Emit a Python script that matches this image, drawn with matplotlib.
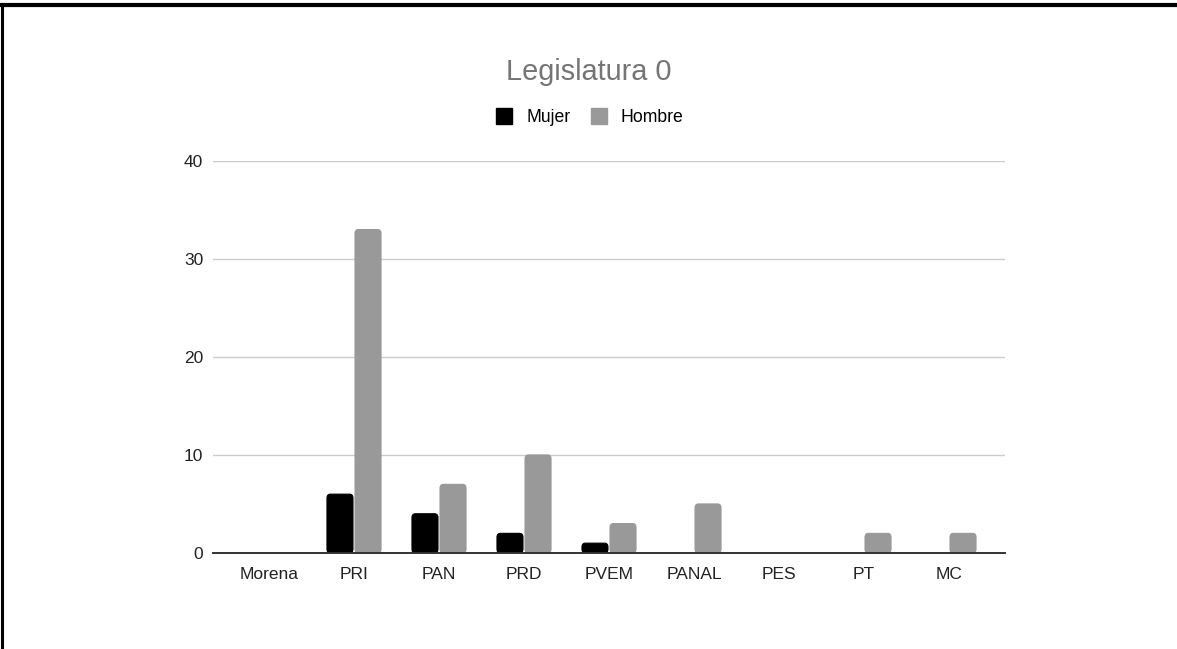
import matplotlib
matplotlib.use("Agg")
import matplotlib.pyplot as plt
import numpy as np
from matplotlib.lines import Line2D
from matplotlib.patches import FancyBboxPatch

plt.rcParams["font.family"] = ["Liberation Sans", "DejaVu Sans"]

partidos = ["Morena", "PRI", "PAN", "PRD", "PVEM", "PANAL", "PES", "PT", "MC"]
mujer = [0, 6, 4, 2, 1, 0, 0, 0, 0]
hombre = [0, 33, 7, 10, 3, 5, 0, 2, 2]
y_ticks = [0, 10, 20, 30, 40]

c_mujer = "#000000"
c_hombre = "#999999"

fig = plt.figure(figsize=(11.77, 6.49), dpi=100)
ax = fig.add_axes([213 / 1177, 0.148, 792 / 1177, 0.604])

x = np.arange(len(partidos))
w = 0.306
gap = 0.012


def rounded_bars(xs, vals, color):
    # bars with slightly rounded tops, like the original chart tool
    for xi, v in zip(xs, vals):
        if v <= 0:
            continue
        r = min(0.04, v * 0.3)
        p = FancyBboxPatch((xi - w / 2, 0), w, v,
                           boxstyle=f"round,pad=0,rounding_size={r}",
                           mutation_aspect=10,
                           facecolor=color, edgecolor=color, linewidth=0.8,
                           zorder=3)
        ax.add_patch(p)


rounded_bars(x - w / 2 - gap, mujer, c_mujer)
rounded_bars(x + w / 2 + gap, hombre, c_hombre)
# square off the bottoms
ax.bar(x - w / 2 - gap, [min(v, 0.5) for v in mujer], w, color=c_mujer, zorder=3)
ax.bar(x + w / 2 + gap, [min(v, 0.5) for v in hombre], w, color=c_hombre, zorder=3)

pad = 13.5 / 85
ax.set_xlim(-0.5 - pad, len(partidos) - 0.5 + pad)
ax.set_ylim(0, 40)
ax.set_yticks(y_ticks)
ax.set_xticks(x)
ax.set_xticklabels(partidos)
ax.tick_params(axis="both", length=0, labelsize=12.5, colors="#222222")
ax.tick_params(axis="y", pad=7)
ax.tick_params(axis="x", pad=10)
ax.grid(axis="y", color="#cccccc", linewidth=1, zorder=0)
for s in ["top", "right", "left"]:
    ax.spines[s].set_visible(False)
ax.spines["bottom"].set_color("#333333")
ax.spines["bottom"].set_linewidth(1.4)
ax.spines["bottom"].set_zorder(4)

fig.text(0.5, 1 - 72 / 649, "Legislatura 0", ha="center", va="center",
         fontsize=20.8, color="#757575")

handles = [
    Line2D([0], [0], marker="s", linestyle="none", markersize=12,
           markerfacecolor=c_mujer, markeredgecolor=c_mujer),
    Line2D([0], [0], marker="s", linestyle="none", markersize=12,
           markerfacecolor=c_hombre, markeredgecolor=c_hombre),
]
fig.legend(handles, ["Mujer", "Hombre"], loc="center",
           bbox_to_anchor=(0.5, 1 - 118 / 649), ncol=2, frameon=False,
           fontsize=12.7, handletextpad=0.65, columnspacing=1.0,
           handlelength=1.2)

# page border
fig.add_artist(Line2D([0, 1], [1 - 5 / 649, 1 - 5 / 649],
                      transform=fig.transFigure, color="black", linewidth=3))
fig.add_artist(Line2D([1.5 / 1177, 1.5 / 1177], [0, 1 - 5 / 649],
                      transform=fig.transFigure, color="black", linewidth=2.2))

fig.savefig("out.png", dpi=100)
